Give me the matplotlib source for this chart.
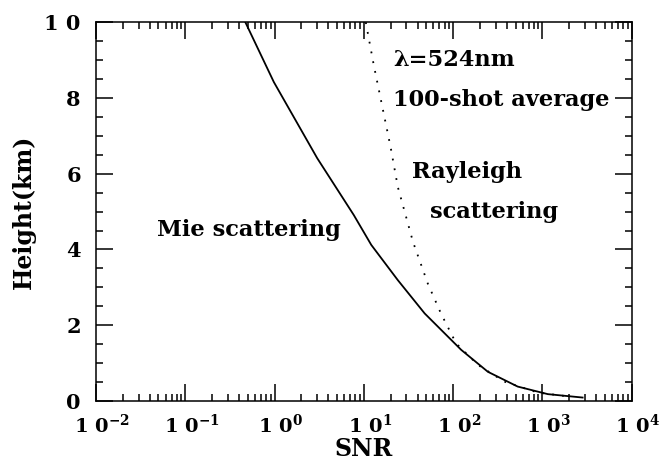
import numpy as np
import matplotlib
matplotlib.use('Agg')
from matplotlib import pyplot as plt
from matplotlib import ticker
from matplotlib import transforms

plt.rcParams['font.family'] = 'DejaVu Serif'
plt.rcParams['font.weight'] = 'bold'
plt.rcParams['mathtext.fontset'] = 'custom'
plt.rcParams['mathtext.rm'] = 'DejaVu Serif:bold'
plt.rcParams['mathtext.bf'] = 'DejaVu Serif:bold'
plt.rcParams['mathtext.default'] = 'rm'

# Mie scattering (solid)
mie_height = [10, 8.42, 6.41, 4.91, 4.12, 3.19, 2.31, 1.35, 0.77, 0.38, 0.18, 0.09]
mie_snr = [0.47, 0.98, 3.0, 7.7, 12.1, 24, 48, 123, 245, 528, 1150, 2820]

# Rayleigh scattering (dotted)
ray_height = [10, 8.87, 6.68, 5.65, 4.2, 3.1, 2.31, 1.52, 0.95, 0.51, 0.22, 0.11]
ray_snr = [10.5, 12.9, 20, 24, 35.5, 52, 73, 108, 190, 375, 890, 2100]

decades = [-2, -1, 0, 1, 2, 3, 4]
y_ticks = [0, 2, 4, 6, 8, 10]

fig = plt.figure(figsize=(6.72, 4.63), dpi=100)
ax = fig.add_axes([0.143, 0.134, 0.797, 0.818])

ax.plot(mie_snr, mie_height, color='black', linewidth=1.3)
ax.plot(ray_snr, ray_height, color='black', linewidth=1.3, linestyle=(0, (1, 4.5)))

ax.set_xscale('log')
ax.set_xlim(1e-2, 1e4)
ax.set_ylim(0, 10)

ax.set_xticks([10.0 ** d for d in decades])
ax.set_xticklabels(['1 0$^{%d}$' % d for d in decades])
ax.xaxis.set_minor_locator(ticker.LogLocator(base=10, subs=np.arange(2, 10), numticks=20))
ax.xaxis.set_minor_formatter(ticker.NullFormatter())

ax.set_yticks(y_ticks)
ax.set_yticklabels(['1 0' if v == 10 else str(v) for v in y_ticks])
ax.yaxis.set_minor_locator(ticker.MultipleLocator(0.5))

ax.tick_params(which='both', direction='in', top=True, right=True, width=1.1)
ax.tick_params(which='major', length=12)
ax.tick_params(which='minor', length=5)
ax.tick_params(axis='x', pad=9, labelsize=14)
ax.tick_params(axis='y', pad=11, labelsize=15)
for s in ax.spines.values():
    s.set_linewidth(1.1)

# shift x labels so the "1 0" base sits over the tick
shift = transforms.ScaledTranslation(6 / 100, 0, fig.dpi_scale_trans)
for lab in ax.get_xticklabels():
    lab.set_transform(lab.get_transform() + shift)

ax.set_xlabel('SNR', fontsize=17, fontweight='bold', labelpad=0)
ax.set_ylabel('Height(km)', fontsize=17, fontweight='bold', labelpad=6)

for (x, y, t) in [(157, 230, 'Mie scattering'), (393, 60, 'λ=524nm'),
                  (393, 100, '100-shot average'), (412, 172, 'Rayleigh'),
                  (430, 212, 'scattering')]:
    fig.text(x / 672, 1 - y / 463, t, fontsize=16.2, va='center', ha='left')

fig.savefig('out.png', dpi=100)
